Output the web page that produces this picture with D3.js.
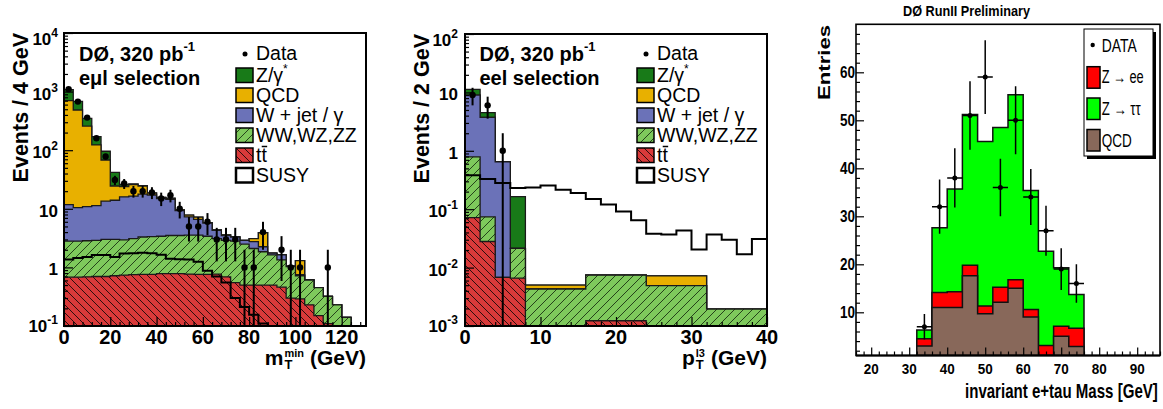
<!DOCTYPE html>
<html>
<head>
<meta charset="utf-8">
<script src="https://cdn.jsdelivr.net/npm/d3@7/dist/d3.min.js"></script>
<style>
  html, body { margin: 0; padding: 0; background: #fff; }
  svg { display: block; }
</style>
</head>
<body>
<svg id="chart" width="1163" height="409"></svg>
<script>
// ---------------------------------------------------------------
// e mu l selection: m_T^min, 4 GeV bins (0-132 GeV)
// ---------------------------------------------------------------
const mtEdges = d3.range(0, 133, 4);
const mtTtbar   = [0.68,0.68,0.69,0.70,0.70,0.72,0.74,0.75,0.76,0.76,0.78,0.78,0.78,0.77,0.76,0.76,0.77,0.69,0.55,0.50,0.50,0.50,0.50,0.46,0.30,0.29,0.23,0.15,0.11,0,0,0,0];
const mtDiboson = [2.12,2.12,2.16,2.20,2.30,2.28,2.21,2.35,2.54,2.59,2.62,2.72,2.72,2.78,2.79,2.64,2.33,2.21,2.25,2.00,1.60,1.35,1.13,0.88,0.73,0.43,0.38,0.30,0.21,0.23,0.14,0,0];
const mtWjet    = [9.0,7.7,8.05,8.4,10.5,11.0,13.05,13.4,14.5,13.85,11.6,11.0,5.8,3.75,3.05,2.3,1.2,0.6,0.5,0.4,0.65,0.4,0.12,0.29,0.02,0.03,0,0,0,0,0,0,0];
const mtQCD     = [688,474.5,247,111.7,54.5,10.5,8.0,9.5,6.7,1.3,0.6,0.6,0.3,0.5,0.6,0.1,0.05,0.1,0,0,0.35,1.65,0,0,0,0.55,0,0,0,0,0,0,0];
const mtZ       = [380,195,92,47,28,17.5,2.0,0.5,0.3,0.1,0.1,0.1,0,0,0,0,0,0,0,0,0,0,0,0,0,0,0,0,0,0,0,0,0];
const mtSUSY    = [1.37,1.45,1.5,1.62,1.62,1.5,1.72,1.74,1.78,1.75,1.65,1.4,1.38,1.37,1.25,0.88,0.7,0.55,0.3,0.21,0.155,0.11,0,0,0,0,0,0,0,0,0,0,0];
const mtData    = [1100,675,360,160,78,31,27,20,20,19,15,17,10,5,5,6,3,3,3,1,1,4,0,2,1,1,0,0,1,0,0,0,0];
const mtXTicks  = [0, 20, 40, 60, 80, 100, 120];
const mtYTicks  = [0.1, 1, 10, 100, 1000, 10000];
const mtYLabels = ['10^-1', '1', '10', '10^2', '10^3', '10^4'];

// ---------------------------------------------------------------
// eel selection: p_T of the third lepton
// ---------------------------------------------------------------
const ptEdges   = [0, 2, 4, 6, 8, 16, 24, 32, 40];
const ptTtbar   = [0.072, 0.028, 0.0068, 0.0066, 0, 0.00123, 0, 0];
const ptDiboson = [0.718, 0.046, 0, 0.0148, 0.0043, 0.0062, 0.0049, 0.00195];
const ptWjet    = [8.21, 3.67, 0.643, 0, 0, 0, 0, 0];
const ptQCD     = [0, 0, 0, 0, 0.00073, 0, 0.0023, 0];
const ptZ       = [2.3, 0.76, 0, 0.143, 0, 0, 0, 0];
const ptFineEdges = d3.range(0, 41, 2);
const ptSUSY    = [0.38,0.33,0.28,0.23,0.235,0.255,0.215,0.19,0.15,0.12,0.091,0.065,0.038,0.037,0.043,0.0205,0.037,0.030,0.017,0.031];
const ptData    = [9,6,1,0,0,0,0,0,0,0,0,0,0,0,0,0,0,0,0,0];
const ptXTicks  = [0, 10, 20, 30, 40];
const ptYTicks  = [0.001, 0.01, 0.1, 1, 10, 100];
const ptYLabels = ['10^-3', '10^-2', '10^-1', '1', '10', '10^2'];

// ---------------------------------------------------------------
// invariant e+tau mass, 4 GeV bins (32-76 GeV)
// ---------------------------------------------------------------
const massEdges    = d3.range(32, 77, 4);
const massQCD      = [3.0, 11.0, 11.0, 17.6, 9.7, 12.1, 15.0, 9.0, 0, 5.0, 2.9];
const massZee      = [1.5, 3.1, 3.3, 2.2, 1.6, 3.1, 1.8, 1.6, 3.1, 2.1, 3.8];
const massZtautau  = [1.8, 13.5, 21.4, 31.4, 34.3, 33.3, 38.5, 24.8, 19.6, 12.2, 7.0];
const massData     = [7, 32, 38, 51, 59, 36, 50, 34, 27, 19, 16];
const massXTicks   = [20, 30, 40, 50, 60, 70, 80, 90];
const massYTicks   = [10, 20, 30, 40, 50, 60];

// ---------------------------------------------------------------
const FONT = "'Liberation Sans', Arial, Helvetica, sans-serif";
const colZ = '#187a18', colQCD = '#e8b000', colW = '#6b72b8';
const colZee = '#ff0000', colZtt = '#00ff00', colQCD3 = '#88685a';

const svg = d3.select('#chart');
const defs = svg.append('defs');

function addHatch(id, bg, ink, s, forward) {
  const p = defs.append('pattern').attr('id', id)
    .attr('patternUnits', 'userSpaceOnUse').attr('width', s).attr('height', s);
  p.append('rect').attr('width', s).attr('height', s).attr('fill', bg);
  const d = forward
    ? `M0,${s}L${s},0M-1,1L1,-1M${s - 1},${s + 1}L${s + 1},${s - 1}`
    : `M0,0L${s},${s}M-1,${s - 1}L1,${s + 1}M${s - 1},-1L${s + 1},1`;
  p.append('path').attr('d', d).attr('stroke', ink).attr('stroke-width', 1).attr('fill', 'none');
}
addHatch('hatchWW', '#7ec95c', '#24421a', 9, true);
addHatch('hatchTT', '#d93a3a', '#2c0e0e', 8, false);

function cumulate(layers) {
  let acc = layers[0].map(() => 0);
  return layers.map(l => (acc = acc.map((a, i) => a + l[i])));
}
function histArea(edges, vals, x, yv, base) {
  const p = d3.path();
  p.moveTo(x(edges[0]), base);
  vals.forEach((v, i) => { p.lineTo(x(edges[i]), yv(v)); p.lineTo(x(edges[i + 1]), yv(v)); });
  p.lineTo(x(edges[edges.length - 1]), base);
  p.closePath();
  return p.toString();
}
function histLine(edges, vals, x, yv) {
  const p = d3.path();
  vals.forEach((v, i) => {
    if (i === 0) p.moveTo(x(edges[0]), yv(v)); else p.lineTo(x(edges[i]), yv(v));
    p.lineTo(x(edges[i + 1]), yv(v));
  });
  return p.toString();
}
function addText(g, x, y, size, weight, anchor) {
  return g.append('text').attr('x', x).attr('y', y)
    .attr('font-family', FONT).attr('font-size', size)
    .attr('font-weight', weight || 'normal').attr('text-anchor', anchor || 'start');
}
// Horizontally condensed text: natural glyphs squeezed to the given width
function narrowText(g, x, y, size, weight, width, str) {
  const t = addText(g, 0, 0, size, weight).text(str);
  const w = t.node().getComputedTextLength();
  t.attr('transform', `translate(${x},${y}) scale(${width / w},1)`);
  return t;
}
function powerLabel(t, str, supSize, dy) {
  const [b, e] = str.split('^');
  t.append('tspan').text(b);
  if (e) t.append('tspan').attr('font-size', supSize).attr('dy', dy).text(e);
}
// Axis title with a stacked subscript/superscript, right-aligned at `right`
function subSupTitle(g, right, base, main, sub, sup, tail) {
  const grp = g.append('g');
  const m = addText(grp, 0, base, 21, 'bold').text(main);
  const wm = m.node().getComputedTextLength();
  const s1 = addText(grp, wm + 1, base + 4, 13, 'bold').text(sub);
  const s2 = addText(grp, wm + 1, base - 8, 11, 'bold').text(sup);
  const ws = Math.max(s1.node().getComputedTextLength(), s2.node().getComputedTextLength());
  const gap = 7;
  const t = addText(grp, wm + ws + gap, base, 21, 'bold').text(tail);
  const total = wm + ws + gap + t.node().getComputedTextLength();
  grp.attr('transform', `translate(${right - total},0)`);
}

// ---------------------------------------------------------------
// Log-scale stacked panel
// ---------------------------------------------------------------
function logPanel(o) {
  const g = svg.append('g');
  const x = d3.scaleLinear().domain(o.xDomain).range([o.left, o.right]);
  const y = d3.scaleLog().domain(o.yDomain).range([o.bottom, o.top]);
  const yv = v => (v > 0 ? Math.min(y(v), o.bottom) : o.bottom);

  const clipId = o.id + '-clip';
  defs.append('clipPath').attr('id', clipId).append('rect')
    .attr('x', o.left).attr('y', o.top).attr('width', o.right - o.left).attr('height', o.bottom - o.top);
  const plot = g.append('g').attr('clip-path', `url(#${clipId})`);

  const cums = cumulate(o.stack.map(s => s.vals));
  for (let k = o.stack.length - 1; k >= 0; k--) {
    plot.append('path').attr('d', histArea(o.edges, cums[k], x, yv, o.bottom))
      .attr('fill', o.stack[k].fill).attr('stroke', '#1a1a1a').attr('stroke-width', 1.3);
  }
  // signal expectation, unstacked
  plot.append('path').attr('d', histLine(o.fineEdges, o.susy, x, yv))
    .attr('fill', 'none').attr('stroke', '#000').attr('stroke-width', 2);

  // data with Poisson (sqrt N) errors
  o.data.forEach((n, i) => {
    if (n <= 0) return;
    const cx = x((o.fineEdges[i] + o.fineEdges[i + 1]) / 2);
    const e = Math.sqrt(n);
    plot.append('line').attr('x1', cx).attr('x2', cx).attr('y1', yv(n - e)).attr('y2', yv(n + e))
      .attr('stroke', '#000').attr('stroke-width', 2);
    plot.append('circle').attr('cx', cx).attr('cy', y(n)).attr('r', 3.2).attr('fill', '#000');
  });

  // axes (ticks point into the frame)
  const minorY = y.ticks().filter(v => Math.abs(Math.log10(v) - Math.round(Math.log10(v))) > 1e-6);
  const noDomain = s => s.select('.domain').remove();
  g.append('g').attr('transform', `translate(${o.left},0)`)
    .call(d3.axisLeft(y).tickValues(minorY).tickSize(-4).tickFormat('')).call(noDomain);
  g.append('g').attr('transform', `translate(${o.left},0)`)
    .call(d3.axisLeft(y).tickValues(o.yTicks).tickSize(-9).tickFormat('')).call(noDomain);
  const minorX = d3.range(o.xDomain[0], o.xDomain[1] + 1e-9, o.xMinorStep).filter(v => !o.xTicks.includes(v));
  g.append('g').attr('transform', `translate(0,${o.bottom})`)
    .call(d3.axisBottom(x).tickValues(minorX).tickSize(-4).tickFormat('')).call(noDomain);
  g.append('g').attr('transform', `translate(0,${o.bottom})`)
    .call(d3.axisBottom(x).tickValues(o.xTicks).tickSize(-9).tickFormat('')).call(noDomain);
  g.selectAll('.tick line').attr('stroke-width', 1.2);

  g.append('rect').attr('x', o.left).attr('y', o.top)
    .attr('width', o.right - o.left).attr('height', o.bottom - o.top)
    .attr('fill', 'none').attr('stroke', '#000').attr('stroke-width', 2);

  // tick labels
  o.yTicks.forEach((v, i) => {
    const ty = y(v);
    const base = Math.min(Math.max(ty + 8, o.top + 12), o.bottom + 6);
    const t = addText(g, o.yLabelRight, base, 17, 'bold', 'end');
    powerLabel(t, o.yLabels[i], 12, -8);
  });
  o.xTicks.forEach(v => {
    addText(g, x(v), 344, 20, 'bold', 'middle').text(v);
  });

  // axis titles
  addText(g, 0, 0, 21.5, 'bold', 'end')
    .attr('transform', `translate(${o.yTitleX},${o.top}) rotate(-90)`).text(o.yTitle);
  subSupTitle(g, o.right, 365, o.xTitle[0], o.xTitle[1], o.xTitle[2], o.xTitle[3]);

  // experiment label
  const h = addText(g, o.labelX, 61, 20, 'bold');
  h.append('tspan').text('DØ, 320 pb');
  h.append('tspan').attr('font-size', 13).attr('dy', -10).text('-1');
  addText(g, o.labelX, 85, 20, 'bold').text(o.selection);

  // legend
  const lx = o.legendX, tx = lx + 20;
  g.append('circle').attr('cx', lx + 9).attr('cy', 54).attr('r', 2.5).attr('fill', '#000');
  addText(g, tx, 60, 19.5).text('Data');
  const rows = [
    { fill: colZ, label: 'Z/γ', sup: '*' },
    { fill: colQCD, label: 'QCD' },
    { fill: colW, label: 'W + jet / γ' },
    { fill: 'url(#hatchWW)', label: 'WW,WZ,ZZ' },
    { fill: 'url(#hatchTT)', label: 'tt', bar: true },
    { fill: '#fff', label: 'SUSY', thick: true }
  ];
  rows.forEach((r, i) => {
    const base = 82 + i * 20;
    g.append('rect').attr('x', lx).attr('y', base - 14).attr('width', 17).attr('height', 14.5)
      .attr('fill', r.fill).attr('stroke', '#000').attr('stroke-width', r.thick ? 2.5 : 1.5);
    const t = addText(g, tx, base, 19.5);
    t.append('tspan').text(r.label);
    if (r.sup) t.append('tspan').attr('font-size', 12).attr('dy', -9).text(r.sup);
    if (r.bar) {
      // bar over the second t (anti-top)
      const node = t.node();
      const w1 = node.getSubStringLength(0, 1);
      const w2 = node.getSubStringLength(1, 1);
      g.append('line').attr('x1', tx + w1 + 0.3).attr('x2', tx + w1 + w2 + 0.3)
        .attr('y1', base - 15.5).attr('y2', base - 15.5).attr('stroke', '#000').attr('stroke-width', 1.5);
    }
  });
}

logPanel({
  id: 'mt', left: 64, right: 366, top: 33, bottom: 326,
  xDomain: [0, 130.5], yDomain: [0.1, 10000],
  edges: mtEdges, fineEdges: mtEdges,
  stack: [
    { vals: mtTtbar, fill: 'url(#hatchTT)' },
    { vals: mtDiboson, fill: 'url(#hatchWW)' },
    { vals: mtWjet, fill: colW },
    { vals: mtQCD, fill: colQCD },
    { vals: mtZ, fill: colZ }
  ],
  susy: mtSUSY, data: mtData,
  xTicks: mtXTicks, xMinorStep: 4, yTicks: mtYTicks, yLabels: mtYLabels,
  yLabelRight: 58, yTitleX: 28, yTitle: 'Events / 4 GeV',
  xTitle: ['m', 'T', 'min', '(GeV)'],
  labelX: 79, selection: 'eμl selection', legendX: 236
});

logPanel({
  id: 'pt', left: 465, right: 767, top: 34, bottom: 326,
  xDomain: [0, 40], yDomain: [0.001, 100],
  edges: ptEdges, fineEdges: ptFineEdges,
  stack: [
    { vals: ptTtbar, fill: 'url(#hatchTT)' },
    { vals: ptDiboson, fill: 'url(#hatchWW)' },
    { vals: ptWjet, fill: colW },
    { vals: ptQCD, fill: colQCD },
    { vals: ptZ, fill: colZ }
  ],
  susy: ptSUSY, data: ptData,
  xTicks: ptXTicks, xMinorStep: 2, yTicks: ptYTicks, yLabels: ptYLabels,
  yLabelRight: 458, yTitleX: 429, yTitle: 'Events / 2 GeV',
  xTitle: ['p', 'T', 'l3', '(GeV)'],
  labelX: 479.5, selection: 'eel selection', legendX: 637
});

// ---------------------------------------------------------------
// Linear panel: invariant e+tau mass
// ---------------------------------------------------------------
(function massPanel() {
  const L = 856, R = 1160, T = 24.3, B = 355.5;
  const g = svg.append('g');
  const x = d3.scaleLinear().domain([16, 96]).range([L, R]);
  const y = d3.scaleLinear().domain([1, 70]).range([B, T]);
  const yv = v => Math.min(y(Math.max(v, 1)), B);

  defs.append('clipPath').attr('id', 'mass-clip').append('rect')
    .attr('x', L).attr('y', T).attr('width', R - L).attr('height', B - T);
  const plot = g.append('g').attr('clip-path', 'url(#mass-clip)');

  const layers = [
    { vals: massQCD, fill: colQCD3 },
    { vals: massZee, fill: colZee },
    { vals: massZtautau, fill: colZtt }
  ];
  const cums = cumulate(layers.map(l => l.vals));
  for (let k = layers.length - 1; k >= 0; k--) {
    plot.append('path').attr('d', histArea(massEdges, cums[k], x, yv, B))
      .attr('fill', layers[k].fill).attr('stroke', '#111').attr('stroke-width', 1.5);
  }
  massData.forEach((n, i) => {
    const lo = massEdges[i], hi = massEdges[i + 1], c = (lo + hi) / 2, e = Math.sqrt(n);
    plot.append('line').attr('x1', x(lo)).attr('x2', x(hi)).attr('y1', y(n)).attr('y2', y(n))
      .attr('stroke', '#000').attr('stroke-width', 1.5);
    plot.append('line').attr('x1', x(c)).attr('x2', x(c)).attr('y1', y(n - e)).attr('y2', y(n + e))
      .attr('stroke', '#000').attr('stroke-width', 1.5);
    plot.append('circle').attr('cx', x(c)).attr('cy', y(n)).attr('r', 2.5).attr('fill', '#000');
  });

  const noDomain = s => s.select('.domain').remove();
  const minorX = d3.range(16, 96.01, 2).filter(v => v % 10 !== 0);
  const minorY = d3.range(2, 70, 2).filter(v => v % 10 !== 0);
  g.append('g').attr('transform', `translate(0,${B})`)
    .call(d3.axisBottom(x).tickValues(minorX).tickSize(-4).tickFormat('')).call(noDomain);
  g.append('g').attr('transform', `translate(0,${B})`)
    .call(d3.axisBottom(x).tickValues(massXTicks).tickSize(-8).tickFormat('')).call(noDomain);
  g.append('g').attr('transform', `translate(${L},0)`)
    .call(d3.axisLeft(y).tickValues(minorY).tickSize(-4).tickFormat('')).call(noDomain);
  g.append('g').attr('transform', `translate(${L},0)`)
    .call(d3.axisLeft(y).tickValues(massYTicks).tickSize(-8).tickFormat('')).call(noDomain);
  g.selectAll('.tick line').attr('stroke-width', 1.2);

  g.append('rect').attr('x', L).attr('y', T).attr('width', R - L).attr('height', B - T)
    .attr('fill', 'none').attr('stroke', '#000').attr('stroke-width', 1.6);
  g.append('line').attr('x1', L).attr('x2', R).attr('y1', B).attr('y2', B)
    .attr('stroke', '#000').attr('stroke-width', 2.2);

  massXTicks.forEach(v => addText(g, x(v), 374, 14.5, 'bold', 'middle').attr('textLength', 15)
    .attr('lengthAdjust', 'spacingAndGlyphs').text(v));
  massYTicks.forEach(v => addText(g, 855, y(v) + 5.5, 16, 'bold', 'end').attr('textLength', 15)
    .attr('lengthAdjust', 'spacingAndGlyphs').text(v));

  addText(g, 966.5, 16, 15.5, 'bold', 'middle').attr('textLength', 127)
    .attr('lengthAdjust', 'spacingAndGlyphs').text('DØ RunII Preliminary');
  addText(g, 0, 0, 17, 'bold', 'end').attr('transform', 'translate(830,25) rotate(-90)')
    .attr('textLength', 75).attr('lengthAdjust', 'spacingAndGlyphs').text('Entries');
  narrowText(g, 965, 398, 20, 'bold', 193, 'invariant e+tau Mass [GeV]');

  // legend with drop shadow
  g.append('rect').attr('x', 1087).attr('y', 32).attr('width', 69).attr('height', 127).attr('fill', '#000');
  g.append('rect').attr('x', 1084).attr('y', 29).attr('width', 69).attr('height', 127)
    .attr('fill', '#fff').attr('stroke', '#000').attr('stroke-width', 1);
  g.append('circle').attr('cx', 1092.7).attr('cy', 45).attr('r', 2.2).attr('fill', '#000');
  addText(g, 1101.7, 51.7, 18, 'normal').attr('textLength', 35)
    .attr('lengthAdjust', 'spacingAndGlyphs').text('DATA');
  const rows = [
    { fill: colZee, label: 'Z → ee', w: 42, top: 66.7, base: 83.3 },
    { fill: colZtt, label: 'Z → ττ', w: 39, top: 98, base: 115 },
    { fill: colQCD3, label: 'QCD', w: 30, top: 129.5, base: 147.3 }
  ];
  rows.forEach(r => {
    g.append('rect').attr('x', 1087).attr('y', r.top).attr('width', 13).attr('height', 21.5)
      .attr('fill', r.fill).attr('stroke', '#000').attr('stroke-width', 1.5);
    addText(g, 1101.7, r.base, 18, 'normal').attr('textLength', r.w)
      .attr('lengthAdjust', 'spacingAndGlyphs').text(r.label);
  });
})();
</script>
</body>
</html>
